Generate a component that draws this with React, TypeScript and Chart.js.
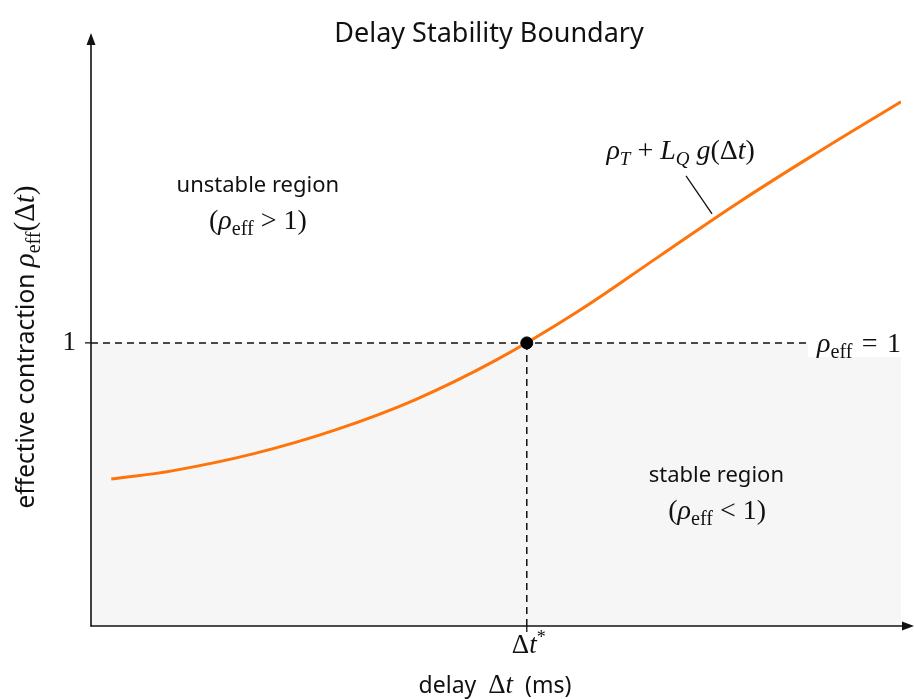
import React, { useEffect, useRef } from 'react';
import { Chart, registerables } from 'chart.js';

Chart.register(...registerables);

// ---- data ----
const DELAY_X = [0.25, 1, 2, 3, 4, 5, 6, 7, 8, 9, 10];
const RHO_EFF = [0.519, 0.548, 0.608, 0.691, 0.799, 0.939, 1.109, 1.303, 1.497, 1.678, 1.852];
const DT_STAR = 5.38;
const RHO_THRESHOLD = 1;
const X_RANGE = [0, 10];
const Y_RANGE = [0, 2.07];
const Y_TICKS = [1];
const Y_TICK_LABELS = ['1'];

const SERIF = '"Liberation Serif", "DejaVu Serif", serif';
const SANS = '"Noto Sans", "Open Sans", sans-serif';
const INK = '#111111';
const ORANGE = '#ff740a';
const SHADE = '#f6f6f6';

const mi = (s: number) => `italic ${s}px ${SERIF}`;
const mr = (s: number) => `${s}px ${SERIF}`;
const sa = (s: number) => `${s}px ${SANS}`;

type Seg = [string, string, number?];

function drawRich(ctx: CanvasRenderingContext2D, segs: Seg[], x: number, y: number, align: 'left' | 'center' | 'right' = 'center') {
  let total = 0;
  for (const s of segs) {
    ctx.font = s[1];
    total += ctx.measureText(s[0]).width;
  }
  let cx = align === 'center' ? x - total / 2 : align === 'right' ? x - total : x;
  ctx.textAlign = 'left';
  ctx.textBaseline = 'alphabetic';
  for (const s of segs) {
    ctx.font = s[1];
    ctx.fillText(s[0], cx, y + (s[2] || 0));
    cx += ctx.measureText(s[0]).width;
  }
  return total;
}

const M = 28;
const rhoEff = (s: number): Seg[] => [['ρ', mi(s)], ['eff', mr(s * 0.72), s * 0.22]];

const annotations = {
  id: 'annotations',
  afterDatasetsDraw(chart: any) {
    const ctx = chart.ctx as CanvasRenderingContext2D;
    const xs = chart.scales.x;
    const ys = chart.scales.y;
    const area = chart.chartArea;
    const px = (v: number) => xs.getPixelForValue(v);
    const py = (v: number) => ys.getPixelForValue(v);
    ctx.save();
    ctx.fillStyle = INK;

    // region labels
    drawRich(ctx, [['unstable region', sa(22)]], px(2.06), py(1.558) + 7);
    drawRich(ctx, [['(', mr(M)], ...rhoEff(M), [' > 1)', mr(M)]], px(2.06), py(1.435) + 9);
    drawRich(ctx, [['stable region', sa(22)]], px(7.72), py(0.534) + 7);
    drawRich(ctx, [['(', mr(M)], ...rhoEff(M), [' < 1)', mr(M)]], px(7.73), py(0.41) + 9);

    // curve formula and leader
    drawRich(ctx, [
      ['ρ', mi(M)], ['T', mi(19), 6], [' + ', mr(M)], ['L', mi(M)], ['Q', mi(19), 6],
      [' g', mi(M)], ['(Δ', mr(M)], ['t', mi(M)], [')', mr(M)],
    ], px(7.28), py(1.664) + 4);
    ctx.strokeStyle = INK;
    ctx.lineWidth = 1.3;
    ctx.beginPath();
    ctx.moveTo(px(7.346), py(1.59));
    ctx.lineTo(px(7.667), py(1.456));
    ctx.stroke();

    // threshold label with white box
    const yT = py(RHO_THRESHOLD);
    ctx.fillStyle = '#ffffff';
    ctx.fillRect(808, yT - 16, area.right - 808 + 1, 30);
    ctx.fillStyle = INK;
    drawRich(ctx, [...rhoEff(M), ['\u2004=\u20041', mr(M)]], 817, yT + 9, 'left');
    ctx.restore();
  },
  afterDraw(chart: any) {
    const ctx = chart.ctx as CanvasRenderingContext2D;
    const xs = chart.scales.x;
    const ys = chart.scales.y;
    const area = chart.chartArea;
    ctx.save();
    ctx.strokeStyle = INK;
    ctx.fillStyle = INK;
    ctx.lineWidth = 1.6;
    const x0 = area.left;
    const y0 = area.bottom;
    // y axis with arrow
    ctx.beginPath();
    ctx.moveTo(x0, y0 + 0.5);
    ctx.lineTo(x0, 42);
    ctx.stroke();
    ctx.beginPath();
    ctx.moveTo(x0, 33);
    ctx.lineTo(x0 - 4.5, 45);
    ctx.lineTo(x0 + 4.5, 45);
    ctx.closePath();
    ctx.fill();
    // x axis with arrow
    ctx.beginPath();
    ctx.moveTo(x0 - 0.5, y0);
    ctx.lineTo(906, y0);
    ctx.stroke();
    ctx.beginPath();
    ctx.moveTo(914, y0);
    ctx.lineTo(902, y0 - 4.5);
    ctx.lineTo(902, y0 + 4.5);
    ctx.closePath();
    ctx.fill();
    // tick marks
    ctx.lineWidth = 1.3;
    const yT = ys.getPixelForValue(RHO_THRESHOLD);
    ctx.beginPath();
    ctx.moveTo(x0 - 6, yT);
    ctx.lineTo(x0, yT);
    const xT = xs.getPixelForValue(DT_STAR);
    ctx.moveTo(xT, y0);
    ctx.lineTo(xT, y0 + 6);
    ctx.stroke();

    // x tick label
    drawRich(ctx, [['Δ', mr(27)], ['t', mi(27)], ['*', mr(18), -10]], xT + 2, y0 + 27);

    // title
    drawRich(ctx, [['Delay Stability Boundary', sa(27)]], 489, 42);

    // x title
    drawRich(ctx, [['delay  ', sa(23)], ['Δ', mr(27)], ['t', mi(27)], ['  (ms)', sa(23)]], 495, 693);

    // y title (rotated)
    ctx.translate(26, 347);
    ctx.rotate(-Math.PI / 2);
    drawRich(ctx, [
      ['effective contraction ', sa(24.5)], ['ρ', mi(29)], ['eff', mr(20), 6],
      ['(Δ', mr(29)], ['t', mi(29)], [')', mr(29)],
    ], 0, 8);
    ctx.restore();
  },
};

export default function App() {
  const ref = useRef<HTMLCanvasElement>(null);
  useEffect(() => {
    if (!ref.current) return;
    const curve = DELAY_X.map((x, i) => ({ x, y: RHO_EFF[i] }));
    const chart = new Chart(ref.current, {
      type: 'line',
      data: {
        datasets: [
          {
            label: 'Δt*',
            data: [{ x: DT_STAR, y: RHO_THRESHOLD }],
            showLine: false,
            pointRadius: 6,
            pointBackgroundColor: '#000',
            pointBorderColor: '#000',
            order: 0,
          },
          {
            label: 'rho_eff',
            data: curve,
            borderColor: ORANGE,
            borderWidth: 3,
            pointRadius: 0,
            tension: 0.4,
            fill: false,
            order: 1,
          },
          {
            label: 'threshold',
            data: [{ x: X_RANGE[0], y: RHO_THRESHOLD }, { x: X_RANGE[1], y: RHO_THRESHOLD }],
            borderColor: INK,
            borderWidth: 1.5,
            borderDash: [7, 5],
            pointRadius: 0,
            fill: false,
            order: 2,
          },
          {
            label: 'dt-star',
            data: [{ x: DT_STAR, y: Y_RANGE[0] }, { x: DT_STAR, y: RHO_THRESHOLD }],
            borderColor: INK,
            borderWidth: 1.5,
            borderDash: [7, 5],
            pointRadius: 0,
            fill: false,
            order: 2,
          },
          {
            label: 'stable',
            data: [{ x: X_RANGE[0], y: RHO_THRESHOLD }, { x: X_RANGE[1], y: RHO_THRESHOLD }],
            borderWidth: 0,
            borderColor: 'rgba(0,0,0,0)',
            backgroundColor: SHADE,
            pointRadius: 0,
            fill: 'origin',
            order: 3,
          },
        ],
      },
      options: {
        animation: false,
        responsive: false,
        layout: { padding: { top: 40, right: 14, left: 0, bottom: 0 } },
        plugins: { legend: { display: false }, tooltip: { enabled: false }, title: { display: false } },
        scales: {
          x: {
            type: 'linear',
            min: X_RANGE[0],
            max: X_RANGE[1],
            grid: { display: false, drawTicks: false },
            border: { display: false },
            ticks: { display: false },
            afterFit: (s: any) => { s.height = 73; },
          },
          y: {
            type: 'linear',
            min: Y_RANGE[0],
            max: Y_RANGE[1],
            grid: { display: false, drawTicks: false },
            border: { display: false },
            afterBuildTicks: (s: any) => { s.ticks = Y_TICKS.map((v) => ({ value: v })); },
            ticks: {
              padding: 15,
              color: INK,
              font: { family: SERIF, size: 27 },
              callback: (v: any) => Y_TICK_LABELS[Y_TICKS.indexOf(Number(v))] ?? '',
            },
            afterFit: (s: any) => { s.width = 91; },
          },
        },
      },
      plugins: [annotations],
    } as any);
    return () => chart.destroy();
  }, []);
  return (
    <div style={{ position: 'absolute', left: 0, top: 0, width: 915, height: 699, background: '#fff' }}>
      <canvas ref={ref} width={915} height={699} style={{ display: 'block' }} />
    </div>
  );
}
